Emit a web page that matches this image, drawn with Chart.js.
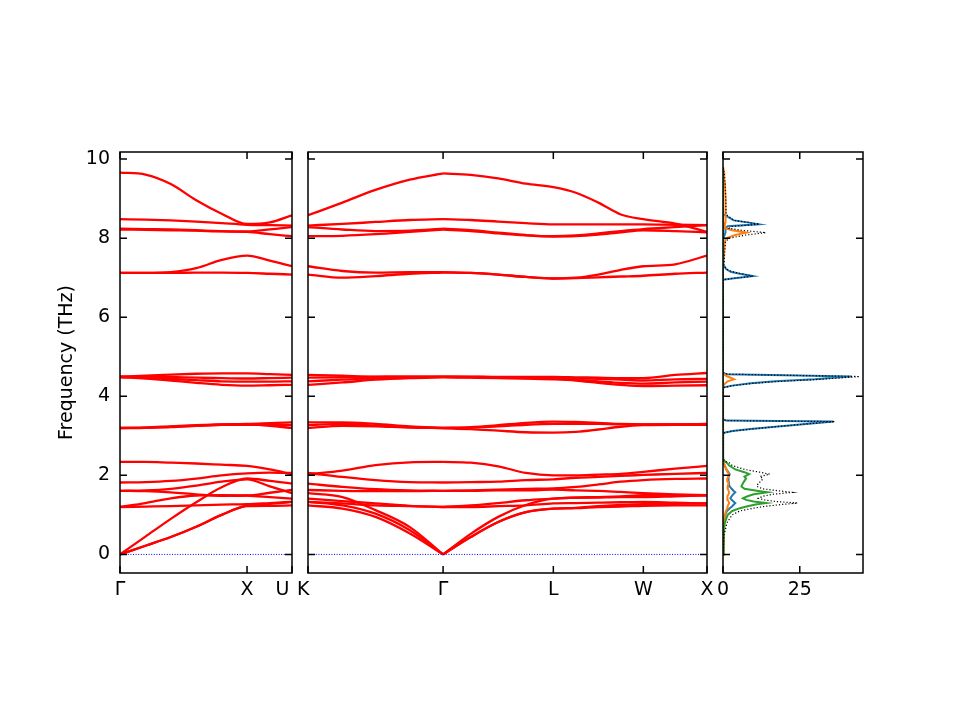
<!DOCTYPE html>
<html lang="en">
<head>
    <meta charset="UTF-8">
    <title>Phonon bands and DOS</title>
    <script src="https://cdn.jsdelivr.net/npm/chart.js"></script>
    <style>
        body { margin: 0; background: #fff; }
        #wrap { position: relative; width: 960px; height: 720px; }
        #wrap canvas { position: absolute; left: 0; top: 0; }
    </style>
</head>
<body>
<div id="wrap">
    <canvas id="bandLeft" width="960" height="720"></canvas>
    <canvas id="bandRight" width="960" height="720"></canvas>
    <canvas id="dos" width="960" height="720"></canvas>
</div>
<script>
    // frequency axis (THz)
    const freqMin = -0.47;
    const freqMax = 10.18;
    const freqTicks = [0, 2, 4, 6, 8, 10];

    // path Γ-X-U, distances in 2π/a
    const kLeft = [0, 0.2, 0.4, 0.6, 0.8, 1.0, 1.18, 1.354];
    const kLeftTicks = [0, 1.0, 1.354];
    const kLeftLabels = ['Γ', 'X', 'U\u2003'];

    const bandsLeft = [
        [9.66, 9.61, 9.37, 8.96, 8.62, 8.36, 8.40, 8.58],
        [8.48, 8.47, 8.45, 8.42, 8.38, 8.34, 8.33, 8.32],
        [8.24, 8.23, 8.22, 8.20, 8.18, 8.17, 8.22, 8.28],
        [8.22, 8.21, 8.20, 8.19, 8.17, 8.16, 8.10, 8.05],
        [7.12, 7.12, 7.14, 7.24, 7.45, 7.56, 7.43, 7.29],
        [7.12, 7.12, 7.12, 7.13, 7.13, 7.12, 7.10, 7.08],
        [4.50, 4.52, 4.55, 4.57, 4.58, 4.58, 4.56, 4.54],
        [4.50, 4.50, 4.49, 4.47, 4.46, 4.45, 4.46, 4.47],
        [4.49, 4.47, 4.44, 4.41, 4.38, 4.37, 4.37, 4.38],
        [4.48, 4.45, 4.40, 4.34, 4.29, 4.27, 4.28, 4.29],
        [3.20, 3.21, 3.24, 3.27, 3.29, 3.30, 3.32, 3.34],
        [3.19, 3.20, 3.23, 3.26, 3.28, 3.28, 3.28, 3.27],
        [3.20, 3.21, 3.22, 3.25, 3.28, 3.29, 3.25, 3.20],
        [2.34, 2.34, 2.32, 2.30, 2.27, 2.24, 2.15, 2.03],
        [1.82, 1.83, 1.86, 1.92, 2.00, 2.05, 2.07, 2.06],
        [1.61, 1.62, 1.66, 1.74, 1.84, 1.90, 1.72, 1.55],
        [1.61, 1.60, 1.57, 1.52, 1.48, 1.49, 1.56, 1.63],
        [1.20, 1.30, 1.42, 1.49, 1.50, 1.49, 1.45, 1.41],
        [1.20, 1.21, 1.22, 1.24, 1.26, 1.27, 1.30, 1.33],
        [0.00, 0.22, 0.44, 0.70, 1.00, 1.22, 1.23, 1.24],
        [0.00, 0.22, 0.44, 0.70, 1.00, 1.24, 1.28, 1.33],
        [0.00, 0.45, 0.90, 1.32, 1.70, 1.92, 1.86, 1.79]
    ];

    // path K-Γ-L-W-X
    const kRight = [0, 0.27, 0.53, 0.8, 1.061, 1.278, 1.494, 1.711, 1.927, 2.104, 2.28, 2.457, 2.634, 2.884, 3.134];
    const kRightTicks = [0, 1.061, 1.927, 2.634, 3.134];
    const kRightLabels = ['K\u2002', 'Γ', 'L', 'W', 'X'];
    const kRightBreaks = [4]; // split at Γ so the acoustic cusp stays sharp

    const bandsRight = [
        [8.58, 8.90, 9.22, 9.48, 9.64, 9.60, 9.51, 9.38, 9.29, 9.15, 8.90, 8.60, 8.48, 8.37, 8.16],
        [8.32, 8.36, 8.41, 8.46, 8.48, 8.46, 8.42, 8.38, 8.35, 8.35, 8.35, 8.35, 8.35, 8.34, 8.33],
        [8.28, 8.22, 8.18, 8.19, 8.24, 8.20, 8.14, 8.08, 8.05, 8.07, 8.12, 8.18, 8.23, 8.28, 8.33],
        [8.05, 8.06, 8.10, 8.16, 8.22, 8.18, 8.12, 8.07, 8.04, 8.05, 8.09, 8.15, 8.20, 8.18, 8.15],
        [7.29, 7.17, 7.13, 7.14, 7.14, 7.12, 7.08, 7.02, 6.98, 7.00, 7.08, 7.20, 7.29, 7.34, 7.56],
        [7.08, 7.00, 7.04, 7.10, 7.13, 7.12, 7.08, 7.02, 6.98, 6.99, 7.01, 7.03, 7.05, 7.10, 7.13],
        [4.54, 4.52, 4.50, 4.50, 4.50, 4.50, 4.49, 4.49, 4.49, 4.48, 4.47, 4.46, 4.46, 4.54, 4.59],
        [4.47, 4.48, 4.49, 4.50, 4.50, 4.49, 4.48, 4.47, 4.47, 4.46, 4.44, 4.42, 4.40, 4.43, 4.44],
        [4.38, 4.42, 4.46, 4.48, 4.49, 4.48, 4.47, 4.46, 4.45, 4.42, 4.38, 4.34, 4.32, 4.35, 4.37],
        [4.29, 4.35, 4.42, 4.46, 4.48, 4.47, 4.46, 4.45, 4.43, 4.40, 4.34, 4.29, 4.26, 4.27, 4.28],
        [3.34, 3.34, 3.30, 3.24, 3.20, 3.22, 3.27, 3.33, 3.36, 3.35, 3.33, 3.30, 3.29, 3.29, 3.30],
        [3.27, 3.30, 3.26, 3.22, 3.19, 3.17, 3.13, 3.09, 3.08, 3.10, 3.16, 3.23, 3.27, 3.28, 3.28],
        [3.20, 3.25, 3.24, 3.21, 3.20, 3.21, 3.24, 3.28, 3.30, 3.30, 3.30, 3.29, 3.29, 3.29, 3.29],
        [2.03, 2.12, 2.26, 2.33, 2.34, 2.32, 2.23, 2.06, 2.00, 2.00, 2.02, 2.04, 2.09, 2.17, 2.24],
        [2.06, 1.96, 1.88, 1.83, 1.82, 1.83, 1.84, 1.88, 1.90, 1.94, 1.96, 1.99, 2.01, 2.04, 2.06],
        [1.79, 1.71, 1.65, 1.62, 1.61, 1.61, 1.62, 1.62, 1.64, 1.62, 1.61, 1.58, 1.55, 1.52, 1.50],
        [1.63, 1.61, 1.60, 1.60, 1.61, 1.62, 1.64, 1.66, 1.67, 1.71, 1.77, 1.84, 1.88, 1.91, 1.92],
        [1.41, 1.35, 1.29, 1.23, 1.20, 1.24, 1.30, 1.37, 1.41, 1.44, 1.45, 1.47, 1.50, 1.50, 1.50],
        [1.33, 1.29, 1.24, 1.22, 1.20, 1.20, 1.22, 1.24, 1.29, 1.30, 1.31, 1.32, 1.33, 1.31, 1.29],
        [1.24, 1.16, 0.95, 0.53, 0.00, 0.44, 0.82, 1.07, 1.16, 1.17, 1.20, 1.21, 1.23, 1.24, 1.24],
        [1.33, 1.24, 1.03, 0.61, 0.00, 0.44, 0.82, 1.07, 1.16, 1.18, 1.22, 1.25, 1.27, 1.28, 1.29],
        [1.55, 1.45, 1.12, 0.69, 0.00, 0.52, 0.95, 1.25, 1.41, 1.43, 1.44, 1.45, 1.45, 1.47, 1.49]
    ];

    // phonon DOS, frequency grid and series
    const dosMax = 45.6;
    const dosTicks = [0, 25];
    const dosFreq = [
        0.00, 0.50, 0.80, 1.00, 1.10, 1.17, 1.22, 1.27, 1.30, 1.34, 1.38, 1.42, 1.47, 1.52, 1.57,
        1.61, 1.66, 1.72, 1.80, 1.86, 1.92, 1.97, 2.03, 2.08, 2.15, 2.25, 2.32, 2.36, 2.42,
        3.07, 3.12, 3.17, 3.23, 3.30, 3.36, 3.385, 3.42,
        4.22, 4.27, 4.33, 4.38, 4.43, 4.47, 4.50, 4.53, 4.56, 4.60,
        6.95, 6.98, 7.04, 7.10, 7.15, 7.22, 7.32,
        7.90, 8.00, 8.08, 8.14, 8.20, 8.25, 8.30, 8.35, 8.40, 8.45, 8.60, 9.00, 9.40, 9.65, 9.80
    ];
    const dosTotal = [
        0, 0.4, 1.3, 3.0, 5.5, 10.0, 14.0, 20.0, 24.3, 17.0, 13.5, 11.5, 13.0, 16.0, 22.6,
        18.0, 13.0, 11.0, 11.5, 12.5, 13.0, 12.0, 15.2, 12.0, 7.0, 3.0, 2.0, 0.5, 0,
        0, 3, 9, 17, 27, 36.4, 1, 0,
        0, 3.2, 10, 19, 32, 39, 44.5, 22, 1.5, 0,
        0, 3, 9.8, 6, 3, 1, 0.3,
        0.8, 2.0, 7.5, 13.9, 6.0, 2.0, 3.0, 11.8, 8.2, 3.6, 1.0, 0.9, 0.7, 0.4, 0
    ];
    const dosPart1 = [
        0, 0.1, 0.3, 0.7, 1.3, 2.2, 3.0, 3.6, 4.0, 3.4, 2.8, 2.4, 2.8, 3.3, 4.0,
        3.4, 2.8, 2.2, 2.0, 1.8, 1.8, 1.8, 2.2, 1.8, 1.1, 0.5, 0.2, 0.1, 0,
        0, 3, 9, 17, 27, 36, 1, 0,
        0, 3, 9, 17, 29.9, 36, 41.8, 20, 1, 0,
        0, 3, 9.7, 5.5, 2.5, 1.0, 0.2,
        0, 0.2, 0.5, 0.8, 0.8, 0.8, 1.5, 11.7, 8.0, 3.5, 0.2, 0, 0, 0, 0
    ];
    const dosPart2 = [
        0, 0.1, 0.3, 0.6, 1.0, 1.4, 1.5, 1.8, 2.0, 1.8, 1.5, 1.4, 1.5, 1.8, 2.0,
        1.8, 1.6, 1.5, 1.8, 1.5, 1.4, 1.8, 2.0, 1.5, 1.1, 0.6, 0.3, 0.1, 0,
        0, 0, 0, 0, 0, 0, 0, 0,
        0, 0.3, 0.8, 1.5, 3.6, 2.5, 1.5, 0.8, 0.3, 0,
        0, 0, 0, 0, 0, 0, 0,
        0.6, 1.0, 4.0, 7.6, 3.0, 0.6, 0.6, 0.6, 0.7, 0.8, 0.9, 0.8, 0.6, 0.4, 0
    ];
    const dosPart3 = [
        0, 0.2, 0.6, 1.5, 3.0, 5.5, 8.0, 11.0, 14.0, 10.0, 7.5, 6.5, 8.0, 10.0, 14.5,
        11.0, 7.0, 6.0, 6.5, 7.0, 7.5, 7.0, 8.5, 7.0, 4.0, 2.0, 1.2, 0.5, 0,
        0, 0, 0, 0, 0, 0, 0, 0,
        0, 0, 0, 0, 0, 0, 0, 0, 0, 0,
        0, 0, 0, 0, 0, 0, 0,
        0, 0, 0, 0, 0, 0, 0, 0, 0, 0, 0, 0, 0, 0, 0
    ];

    Chart.defaults.font.family = "'DejaVu Sans', sans-serif";
    Chart.defaults.font.size = 19;
    Chart.defaults.color = '#000';
    Chart.defaults.animation = false;

    // black frame with inward ticks on all four sides
    const frameTicks = {
        id: 'frameTicks',
        afterDraw(chart, args, opts) {
            const ctx = chart.ctx;
            const a = chart.chartArea;
            const len = 7;
            ctx.save();
            ctx.strokeStyle = '#000';
            ctx.lineWidth = 1.5;
            ctx.beginPath();
            opts.xTicks.forEach(v => {
                const px = chart.scales.x.getPixelForValue(v);
                ctx.moveTo(px, a.bottom); ctx.lineTo(px, a.bottom - len);
                ctx.moveTo(px, a.top); ctx.lineTo(px, a.top + len);
            });
            freqTicks.forEach(v => {
                const py = chart.scales.y.getPixelForValue(v);
                ctx.moveTo(a.left, py); ctx.lineTo(a.left + len, py);
                ctx.moveTo(a.right, py); ctx.lineTo(a.right - len, py);
            });
            ctx.stroke();
            ctx.strokeRect(a.left, a.top, a.right - a.left, a.bottom - a.top);
            ctx.restore();
        }
    };

    function freqAxis(show) {
        return {
            type: 'linear', min: freqMin, max: freqMax, display: show,
            grid: { display: false, drawTicks: false },
            border: { display: false },
            afterBuildTicks: s => { s.ticks = freqTicks.map(v => ({ value: v })); },
            ticks: { padding: 10 },
            title: { display: show, text: 'Frequency (THz)', padding: { top: 4, bottom: 4 } },
            afterFit: s => { s.width = show ? 68 : 0; }
        };
    }

    function bottomAxis(max, ticks, labels) {
        return {
            type: 'linear', min: 0, max: max,
            grid: { display: false, drawTicks: false },
            border: { display: false },
            afterBuildTicks: s => { s.ticks = ticks.map(v => ({ value: v })); },
            ticks: { autoSkip: false, maxRotation: 0, padding: 6, callback: (v, i) => labels[i] },
            afterFit: s => { s.height = 40; }
        };
    }

    function bandSets(ks, rows, breaks) {
        const sets = [{
            data: [{ x: ks[0], y: 0 }, { x: ks[ks.length - 1], y: 0 }],
            borderColor: '#0000ff', borderWidth: 1, borderDash: [1, 1.6]
        }];
        const ends = breaks.concat([ks.length - 1]);
        rows.forEach(row => {
            let start = 0;
            ends.forEach(end => {
                const pts = [];
                for (let i = start; i <= end; i++) pts.push({ x: ks[i], y: row[i] });
                sets.push({ data: pts, borderColor: '#ff0000', borderWidth: 2.3, cubicInterpolationMode: 'monotone' });
                start = end;
            });
        });
        return sets;
    }

    function bandChart(id, ks, rows, breaks, ticks, labels, padding, showFreq) {
        return new Chart(document.getElementById(id), {
            type: 'line',
            data: { datasets: bandSets(ks, rows, breaks) },
            options: {
                responsive: false,
                devicePixelRatio: 1,
                layout: { padding: padding },
                elements: { point: { radius: 0 } },
                plugins: { legend: { display: false }, tooltip: { enabled: false }, frameTicks: { xTicks: ticks } },
                scales: { x: bottomAxis(ks[ks.length - 1], ticks, labels), y: freqAxis(showFreq) }
            },
            plugins: [frameTicks]
        });
    }

    bandChart('bandLeft', kLeft, bandsLeft, [], kLeftTicks, kLeftLabels,
        { left: 52, right: 668, top: 152, bottom: 107 }, true);
    bandChart('bandRight', kRight, bandsRight, kRightBreaks, kRightTicks, kRightLabels,
        { left: 308, right: 253, top: 152, bottom: 107 }, false);

    const dosLine = (vals, color, extra) => Object.assign({
        data: vals.map((v, i) => ({ x: v, y: dosFreq[i] })),
        borderColor: color, borderWidth: 2, showLine: true, pointRadius: 0, tension: 0
    }, extra || {});

    new Chart(document.getElementById('dos'), {
        type: 'scatter',
        data: {
            datasets: [
                dosLine(dosTotal, '#000000', { borderWidth: 1.2, borderDash: [1.2, 2] }),
                dosLine(dosPart3, '#2ca02c'),
                dosLine(dosPart2, '#ff7f0e'),
                dosLine(dosPart1, '#1f77b4')
            ]
        },
        options: {
            responsive: false,
            devicePixelRatio: 1,
            layout: { padding: { left: 723, right: 97, top: 152, bottom: 107 } },
            plugins: { legend: { display: false }, tooltip: { enabled: false }, frameTicks: { xTicks: dosTicks } },
            scales: {
                x: bottomAxis(dosMax, dosTicks, dosTicks.map(String)),
                y: freqAxis(false)
            }
        },
        plugins: [frameTicks]
    });
</script>
</body>
</html>
